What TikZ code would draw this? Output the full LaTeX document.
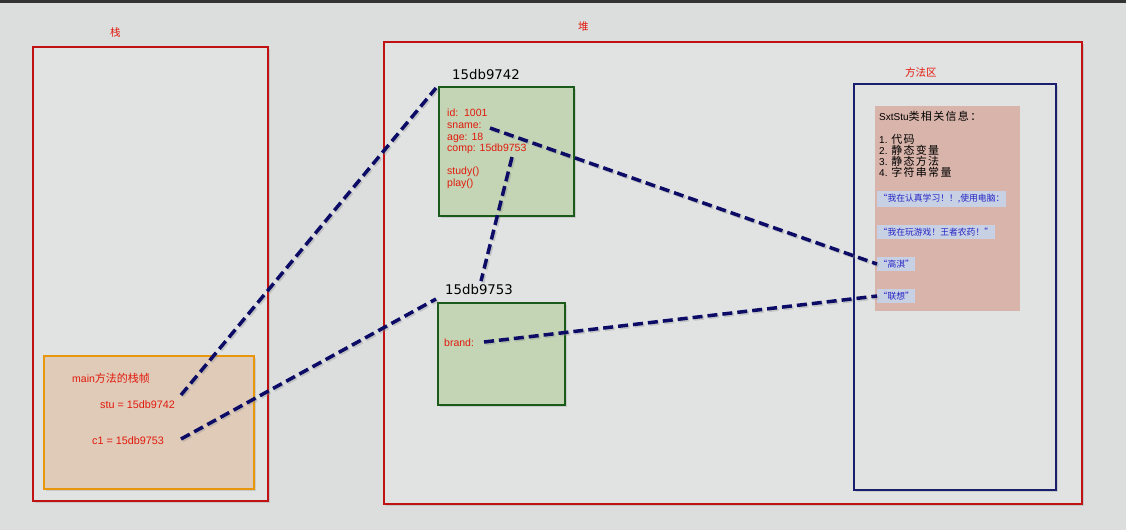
\documentclass[tikz,border=0pt]{standalone}
\usepackage{fontspec}
\setmainfont{Liberation Sans}
\newfontfamily\cjk{Noto Sans CJK SC}
\newfontfamily\addrfont{DejaVu Sans}
\usetikzlibrary{shadows}
\definecolor{bgc}{HTML}{DCDEDD}
\definecolor{innerbg}{HTML}{E1E3E3}
\definecolor{framered}{HTML}{C01212}
\definecolor{framenavy}{HTML}{1A1E6E}
\definecolor{objfill}{HTML}{C3D5B5}
\definecolor{objdraw}{HTML}{1A5A1A}
\definecolor{frmfill}{HTML}{DFCBB8}
\definecolor{frmdraw}{HTML}{E8960C}
\definecolor{pinkfill}{HTML}{D8B4AB}
\definecolor{hlfill}{HTML}{C8D0E4}
\definecolor{hltext}{HTML}{2424C4}
\definecolor{txtred}{HTML}{E2190C}
\definecolor{linec}{HTML}{0C0C66}
\tikzset{
  box/.style={anchor=north west, inner sep=0pt, draw, line width=1.7pt,
    drop shadow={opacity=0.25, shadow xshift=2pt, shadow yshift=-2pt}},
  area/.style={box, draw=framered, fill=innerbg},
  objbox/.style={box, draw=objdraw, fill=objfill},
  lbl/.style={anchor=west, inner sep=0pt, text=txtred, font=\cjk\fontsize{10.5}{11}\selectfont},
  addr/.style={anchor=west, inner sep=0pt, text=black, font=\addrfont\fontsize{13.3}{14}\selectfont},
  field/.style={anchor=north west, inner sep=0pt, text=txtred, align=left,
    font=\fontsize{10.5}{11.6}\selectfont},
  info/.style={anchor=west, inner sep=0pt, text=black, font=\fontsize{10}{11}\selectfont},
  strc/.style={anchor=west, inner xsep=1.5pt, inner ysep=3pt, fill=hlfill, text=hltext, font=\cjk\fontsize{8.8}{9.5}\selectfont},
  conn/.style={draw=linec, line width=3.5pt, dash pattern=on 10pt off 5pt,
    preaction={draw=black!45, opacity=0.35, line width=3.5pt, dash pattern=on 10pt off 5pt, transform canvas={shift={(1.5pt,-1.5pt)}}}}
}
\newcommand{\cj}[1]{{\cjk\fontsize{11}{11}\selectfont\addfontfeatures{LetterSpace=12}#1}}
\begin{document}
\begin{tikzpicture}[x=1pt,y=-1pt]
\path[fill=bgc] (0,0) rectangle (1126,530);
\useasboundingbox (0,0) rectangle (1126,530);
\fill[black!80] (0,0) rectangle (1126,3);
% stack
\node[area, minimum width=235pt, minimum height=454pt] (stack) at (32,46) {};
\node[lbl] (stacklbl) at (110,33) {栈};
% heap
\node[area, minimum width=698pt, minimum height=462pt] (heap) at (383,41) {};
\node[lbl] (heaplbl) at (578,27) {堆};
% method area
\node[box, draw=framenavy, fill=innerbg, minimum width=202pt, minimum height=406pt] (marea) at (853,83) {};
\node[lbl] (marealbl) at (905,72) {方法区};
\node[anchor=north west, inner sep=0pt, fill=pinkfill, minimum width=145pt, minimum height=205pt] (pink) at (875,106) {};
\node[info] (i0) at (879,116) {SxtStu\cj{类相关信息：}};
\node[info] (i1) at (879,139) {1. \cj{代码}};
\node[info] (i2) at (879,150) {2. \cj{静态变量}};
\node[info] (i3) at (879,161) {3. \cj{静态方法}};
\node[info] (i4) at (879,172) {4. \cj{字符串常量}};
\node[strc] (s1) at (877,199) {“我在认真学习！！,使用电脑：};
\node[strc] (s2) at (877,232) {“我在玩游戏！王者农药！”};
\node[strc] (s3) at (877,264) {“高淇”};
\node[strc] (s4) at (877,296) {“联想”};
% object 1
\node[objbox, minimum width=135pt, minimum height=129pt] (obj1) at (438,86) {};
\node[addr] (a1) at (452,75) {15db9742};
\node[field] (f1) at (447,109) {id:\ \ 1001\\sname:\\age: 18\\comp: 15db9753\\[11.6pt]study()\\play()};
% object 2
\node[objbox, minimum width=127pt, minimum height=102pt] (obj2) at (437,302) {};
\node[addr] (a2) at (445,290) {15db9753};
\node[field, anchor=west] (f2) at (444,343) {brand:};
% stack frame
\node[box, draw=frmdraw, fill=frmfill, minimum width=210pt, minimum height=133pt] (frame) at (43,355) {};
\node[lbl, font=\fontsize{10.5}{11}\selectfont] (framelbl) at (72,378) {main{\cjk\fontsize{11}{11}\selectfont 方法的栈帧}};
\node[lbl, font=\fontsize{10.8}{11.5}\selectfont] (stu) at (100,405) {stu = 15db9742};
\node[lbl, font=\fontsize{10.8}{11.5}\selectfont] (c1) at (92,441) {c1 = 15db9753};
% connector endpoints
\coordinate (stuEnd) at (181,395);
\coordinate (c1End) at (181,439);
\coordinate (obj1Corner) at (436,88);
\coordinate (obj2Corner) at (436,299);
\coordinate (snameEnd) at (490,128);
\coordinate (compEnd) at (512,157);
\coordinate (a2Top) at (481,281);
\coordinate (brandEnd) at (484,342);
\draw[conn] (stuEnd) -- (obj1Corner);
\draw[conn] (c1End) -- (obj2Corner);
\draw[conn] (snameEnd) -- (s3.west);
\draw[conn] (compEnd) -- (a2Top);
\draw[conn] (brandEnd) -- (s4.west);
\end{tikzpicture}
\end{document}
